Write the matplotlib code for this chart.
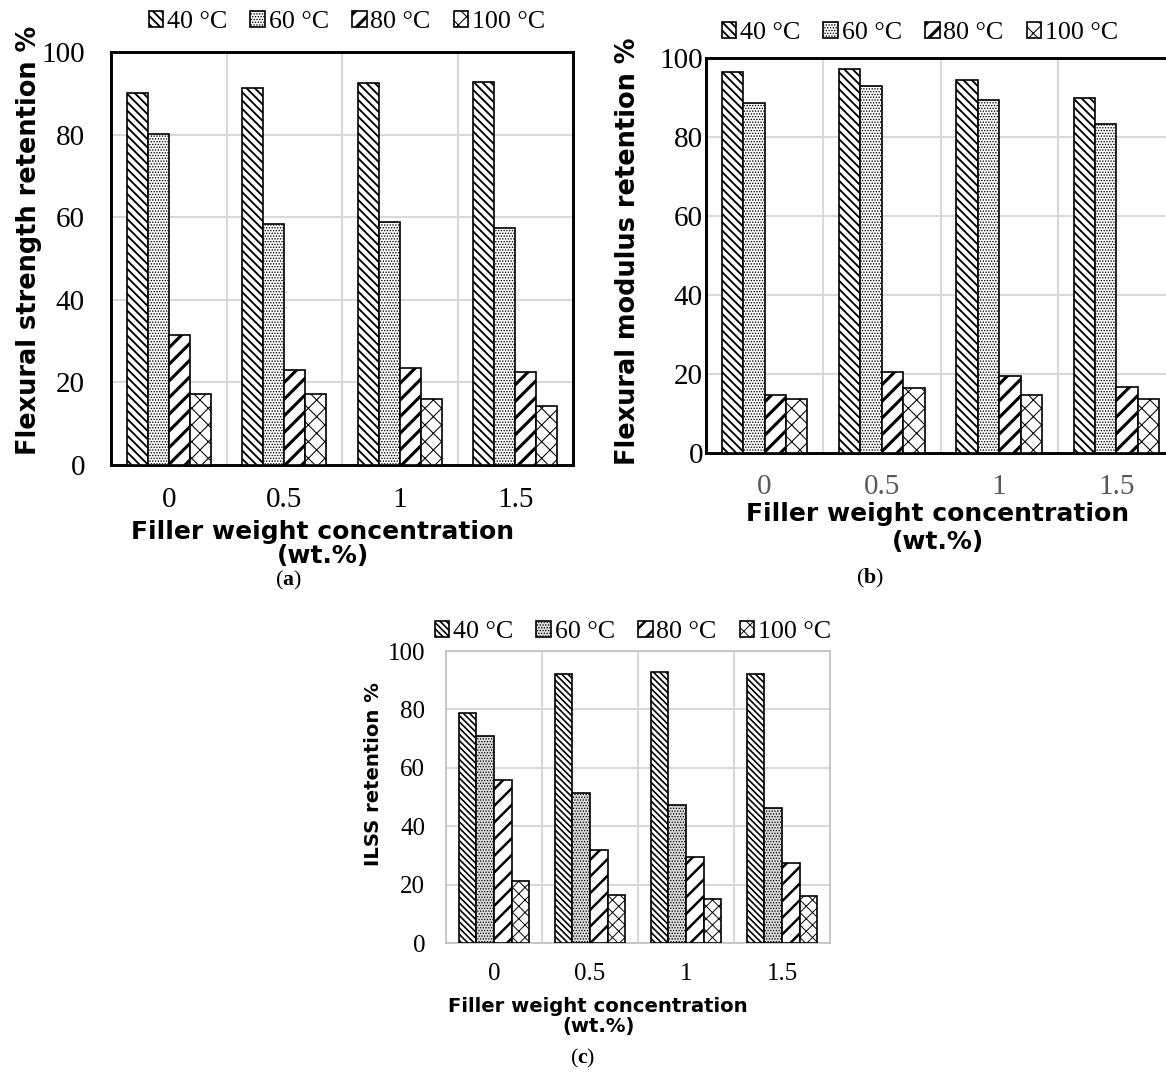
import matplotlib.pyplot as plt
import numpy as np

plt.rcParams['font.family'] = ['Liberation Serif', 'DejaVu Serif']
plt.rcParams['mathtext.fontset'] = 'custom'
plt.rcParams['mathtext.rm'] = 'Liberation Serif'
plt.rcParams['mathtext.bf'] = 'Liberation Serif:bold'

conc = ['0', '0.5', '1', '1.5']
temps = ['40 °C', '60 °C', '80 °C', '100 °C']

# (a) flexural strength retention %
fs_40 = [90.0, 91.3, 92.4, 92.7]
fs_60 = [80.1, 58.4, 58.8, 57.4]
fs_80 = [31.4, 23.0, 23.6, 22.6]
fs_100 = [17.1, 17.2, 16.1, 14.3]

# (b) flexural modulus retention %
fm_40 = [96.5, 97.2, 94.4, 89.9]
fm_60 = [88.6, 92.9, 89.4, 83.4]
fm_80 = [14.6, 20.6, 19.4, 16.7]
fm_100 = [13.7, 16.4, 14.6, 13.6]

# (c) ILSS retention %
il_40 = [78.8, 92.1, 92.8, 92.1]
il_60 = [71.0, 51.5, 47.3, 46.4]
il_80 = [55.8, 31.8, 29.6, 27.5]
il_100 = [21.1, 16.6, 15.1, 16.2]

W, H = 1166, 1074
DPI = 150
fig = plt.figure(figsize=(W / DPI, H / DPI), dpi=DPI)

SANS = 'DejaVu Sans'


def draw_panel(rect, series, ylabel, faces, hatches, hatch_lw, spine_col, spine_lw,
               tick_fs, lab_fs, xtick_col, xpad, ypad, xlab_xy, ylab_xy, lsp):
    ax = fig.add_axes(rect)
    x = np.arange(len(conc))
    w = 0.1825
    bars = []
    for k, vals in enumerate(series):
        b = ax.bar(x + (k - 1.5) * w, vals, w, color=faces[k], edgecolor='black',
                   linewidth=0.8, hatch=hatches[k], zorder=3)
        for p in b.patches:
            if hasattr(p, 'set_hatch_linewidth'):
                p.set_hatch_linewidth(hatch_lw[k])
        bars.append(b)
    ax.set_xlim(-0.5, 3.5)
    ax.set_ylim(0, 100)
    ax.set_yticks(range(0, 101, 20))
    ax.set_xticks(x)
    ax.set_xticklabels(conc)
    ax.set_xticks([0.5, 1.5, 2.5], minor=True)
    ax.tick_params(which='both', length=0)
    ax.tick_params(axis='x', labelsize=tick_fs, pad=xpad, colors=xtick_col)
    ax.tick_params(axis='y', labelsize=tick_fs, pad=ypad)
    ax.yaxis.grid(True, color='#d9d9d9', linewidth=1.0)
    ax.xaxis.grid(True, which='minor', color='#d9d9d9', linewidth=1.0)
    ax.set_axisbelow(True)
    for s in ax.spines.values():
        s.set_color(spine_col)
        s.set_linewidth(spine_lw)
    ax.set_xlabel('Filler weight concentration\n(wt.%)', family=SANS, weight='bold',
                  fontsize=lab_fs, linespacing=lsp)
    ax.xaxis.set_label_coords(*xlab_xy)
    ax.set_ylabel(ylabel, family=SANS, weight='bold', fontsize=12.3 if lab_fs > 11 else lab_fs)
    ax.yaxis.set_label_coords(*ylab_xy)
    return ax, bars


white4 = ['white'] * 4
hatch_ab = ['\\' * 6, '.' * 9, '///', 'xxx']
lw_ab = [0.9, 0.45, 1.5, 0.5]
hatch_c = ['\\' * 8, '.' * 9, '///', 'xxxx']
lw_c = [0.8, 0.4, 1.2, 0.45]

ax_a, bars_a = draw_panel([111 / W, 1 - 465 / H, 462 / W, 413 / H],
                          [fs_40, fs_60, fs_80, fs_100], 'Flexural strength retention %',
                          white4, hatch_ab, lw_ab, 'black', 1.4, 14, 12.0, 'black',
                          10.5, 12.5, (0.458, -0.132), (-0.149, 0.545), 1.05)
ax_b, bars_b = draw_panel([706 / W, 1 - 453 / H, 469 / W, 395 / H],
                          [fm_40, fm_60, fm_80, fm_100], 'Flexural modulus retention %',
                          white4, hatch_ab, lw_ab, 'black', 1.4, 14, 12.0, '#595959',
                          10.0, 1.5, (0.494, -0.123), (-0.139, 0.51), 1.25)
ax_c, bars_c = draw_panel([446 / W, 1 - 943 / H, 384 / W, 292 / H],
                          [il_40, il_60, il_80, il_100], 'ILSS retention %',
                          ['white', '#d9d9d9', 'white', 'white'], hatch_c, lw_c,
                          '#bfbfbf', 0.8, 12, 9.4, 'black', 9.5, 10,
                          (0.396, -0.184), (-0.164, 0.58), 1.1)

leg_kw = dict(ncol=4, loc='center', frameon=False, handlelength=0.55, handleheight=0.55,
              handletextpad=0.15, columnspacing=0.9, borderaxespad=0, fontsize=12.5)
for bars, xy, lws in [(bars_a, (347, 22), lw_ab), (bars_b, (920, 33), lw_ab),
                      (bars_c, (633, 632), lw_c)]:
    leg = fig.legend(bars, temps, bbox_to_anchor=(xy[0] / W, 1 - xy[1] / H), **leg_kw)
    for h, hl in zip(leg.legend_handles, lws):
        if hasattr(h, 'set_hatch_linewidth'):
            h.set_hatch_linewidth(hl)

fig.text(288 / W, 1 - 580 / H, r'($\mathbf{a}$)', ha='center', va='center', fontsize=10.5)
fig.text(870 / W, 1 - 578 / H, r'($\mathbf{b}$)', ha='center', va='center', fontsize=10.5)
fig.text(583 / W, 1 - 1058 / H, r'($\mathbf{c}$)', ha='center', va='center', fontsize=10.5)

fig.savefig('out.png', dpi=DPI)
